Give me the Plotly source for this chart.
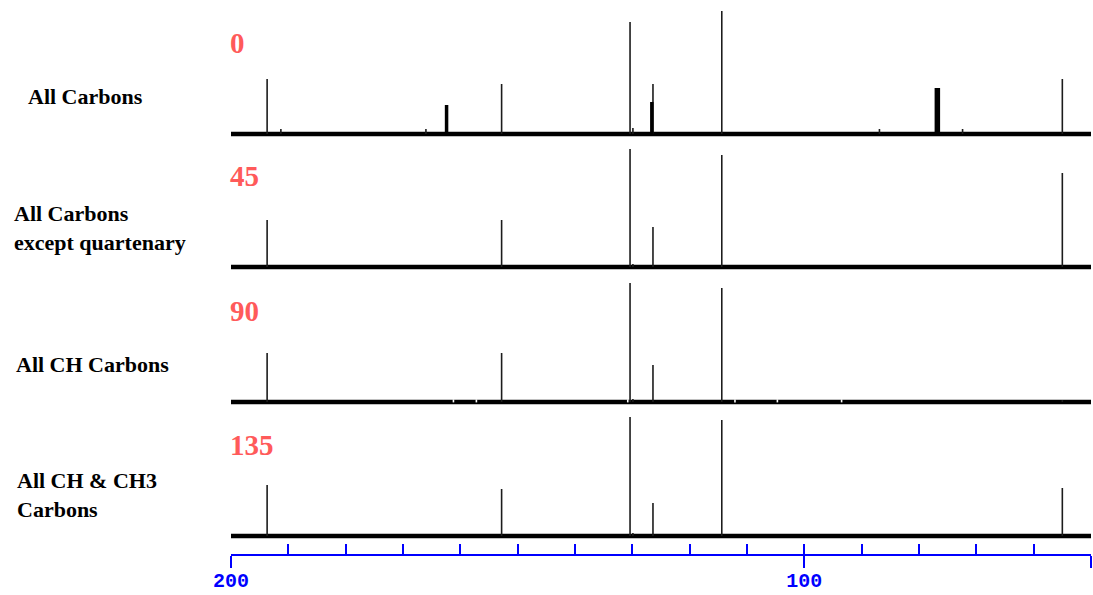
import plotly.graph_objects as go

# ---------------- data ----------------
# chemical shifts (ppm) and relative intensities for each DEPT panel
ppm_0 = [193.7, 191.3, 166.0, 162.4, 152.8, 130.4, 129.9, 126.6, 126.4, 114.4, 86.9, 76.8, 72.4, 55.0]
int_0 = [55, 5, 5, 29, 50, 112, 6, 32, 50, 123, 5, 46, 5, 55]

ppm_45 = [193.7, 152.8, 130.4, 129.9, 126.4, 114.4, 55.0]
int_45 = [47, 47, 118, 3, 40, 112, 94]

ppm_90 = [193.7, 152.8, 130.4, 129.9, 126.4, 114.4, 55.0]
int_90 = [49, 49, 119, 3, 37, 114, 2]

ppm_135 = [193.7, 152.8, 130.4, 129.9, 126.4, 114.4, 55.0]
int_135 = [51, 47, 119, 3, 33, 116, 48]

# small baseline notches seen in the 90 spectrum (ppm)
dips_90 = [161.2, 157.2, 130.8, 112.1, 104.7, 93.5]

angles = ["0", "45", "90", "135"]
panel_labels = ["All Carbons", "All Carbons<br>except quartenary",
                "All CH Carbons", "All CH & CH3<br>Carbons"]

axis_ticks = list(range(200, 49, -10))
axis_labels = ["200", "100"]

# ---------------- styling ----------------
W, H = 1093, 595
ML, MR, MT, MB = 231, 2, 0, 40
PH = H - MT - MB                    # plot-area height in px (555)
baselines_px = [134, 267, 402, 536]  # baseline pixel row of each panel
label_x_px = [26, 12, 14, 15]
label_y_off = [38, 39, 38, 41]
broad_px = {162.4: 3.5, 126.6: 3.5, 76.8: 5.5}   # broad peaks (line width px)
thin_px = 1.6
peak_color = "#1c1c1c"

spectra = [(ppm_0, int_0), (ppm_45, int_45), (ppm_90, int_90), (ppm_135, int_135)]

fig = go.Figure()

def paper_y(px):
    return (PH - (px - MT)) / PH

annotations = []
for k, (ppm, inten) in enumerate(spectra):
    yname = "y" if k == 0 else f"y{k+1}"
    # baseline
    fig.add_trace(go.Scatter(x=[200, 50], y=[0, 0], mode="lines",
                             line=dict(color="black", width=4.5),
                             xaxis="x", yaxis=yname, showlegend=False, hoverinfo="skip"))
    # peaks grouped by line width
    groups = {}
    for p, h in zip(ppm, inten):
        w = broad_px.get(p, thin_px)
        groups.setdefault(w, ([], []))
        groups[w][0].extend([p, p, None])
        groups[w][1].extend([0, h, None])
    for w, (xs, ys) in groups.items():
        fig.add_trace(go.Scatter(x=xs, y=ys, mode="lines",
                                 line=dict(color=peak_color if w == thin_px else "black", width=w),
                                 xaxis="x", yaxis=yname, showlegend=False, hoverinfo="skip"))
    if k == 2:
        xs, ys = [], []
        for d in dips_90:
            xs.extend([d, d, None])
            ys.extend([2.6, -0.4, None])
        fig.add_trace(go.Scatter(x=xs, y=ys, mode="lines",
                                 line=dict(color="white", width=1.6),
                                 xaxis="x", yaxis=yname, showlegend=False, hoverinfo="skip"))
    # angle label (red)
    annotations.append(dict(x=200, y=91, xref="x", yref=yname, text=f"<b>{angles[k]}</b>",
                            xanchor="left", yanchor="middle", showarrow=False, xshift=-3,
                            font=dict(family="Liberation Serif", size=29, color="#ff5a5a")))
    # panel description
    annotations.append(dict(x=(label_x_px[k] - ML) / (W - ML - MR), y=label_y_off[k],
                            xref="paper", yref=yname, text=f"<b>{panel_labels[k]}</b>",
                            xanchor="left", yanchor="middle", align="left", showarrow=False,
                            font=dict(family="Liberation Serif", size=22, color="black")))

# dummy trace for the label axis
fig.add_trace(go.Scatter(x=[], y=[], xaxis="x2", yaxis="y", showlegend=False))

layout = dict(
    width=W, height=H,
    margin=dict(l=ML, r=MR, t=MT, b=MB, autoexpand=False),
    paper_bgcolor="white", plot_bgcolor="white",
    annotations=annotations,
    xaxis=dict(range=[200, 50], anchor="free", position=0, automargin=False,
               showline=True, linecolor="#0000ff", linewidth=2,
               ticks="inside", tickvals=axis_ticks, ticklen=10, tickwidth=1.5,
               tickcolor="#0000ff", showticklabels=False,
               showgrid=False, zeroline=False),
    xaxis2=dict(range=[200, 50], anchor="free", position=0, overlaying="x",
                automargin=False,
                showline=False, ticks="outside", tickvals=[200, 100, 50],
                ticktext=axis_labels + [""], ticklen=12, tickwidth=1.5,
                tickcolor="#0000ff", ticklabelstandoff=-5,
                tickfont=dict(family="Liberation Mono", size=20, color="#0000ff",
                              weight="bold"),
                showgrid=False, zeroline=False),
)
for k, B in enumerate(baselines_px):
    name = "yaxis" if k == 0 else f"yaxis{k+1}"
    layout[name] = dict(domain=[paper_y(B + 4), paper_y(B - 130)], range=[-4, 130],
                        anchor="x", visible=False, showgrid=False, zeroline=False,
                        fixedrange=True)

fig.update_layout(**layout)
fig.write_html("out.html")
